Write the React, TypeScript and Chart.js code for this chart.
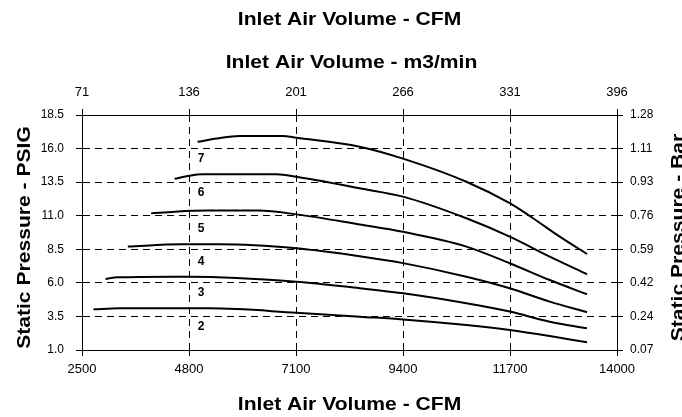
import React, { useEffect, useRef } from "react";
import { Chart, registerables } from "chart.js";

Chart.register(...registerables);

// ---- data ----
const cfmTicks = [2500, 4800, 7100, 9400, 11700, 14000];
const m3Labels = ["71", "136", "201", "266", "331", "396"];
const psiTicks = [1.0, 3.5, 6.0, 8.5, 11.0, 13.5, 16.0, 18.5];
const barLabels = ["0.07", "0.24", "0.42", "0.59", "0.76", "0.93", "1.11", "1.28"];

const curveNames = ["2", "3", "4", "5", "6", "7"];

const curve2Cfm = [2747, 3306, 5242, 7106, 8468, 9400, 10762, 11694, 12554, 13356];
const curve2Psi = [4.03, 4.1, 4.1, 3.78, 3.48, 3.28, 2.86, 2.49, 2.04, 1.57];

const curve3Cfm = [3005, 3270, 4446, 4812, 7106, 8468, 9400, 10762, 11694, 12554, 13356];
const curve3Psi = [6.29, 6.41, 6.46, 6.46, 6.09, 5.6, 5.22, 4.48, 3.86, 3.11, 2.62];

const curve4Cfm = [3485, 4633, 5457, 7106, 8468, 9400, 10762, 11694, 12554, 13356];
const curve4Psi = [8.7, 8.87, 8.87, 8.57, 7.98, 7.47, 6.46, 5.6, 4.6, 3.81];

const curve5Cfm = [3988, 4500, 5200, 6300, 7106, 8468, 9400, 10762, 11694, 12554, 13356];
const curve5Psi = [11.18, 11.3, 11.38, 11.38, 11.1, 10.35, 9.8, 8.7, 7.46, 6.21, 5.15];

const curve6Cfm = [4489, 4812, 5091, 6683, 7106, 8468, 9400, 10762, 11694, 12554, 13356];
const curve6Psi = [13.75, 13.98, 14.08, 14.08, 13.9, 13.04, 12.42, 10.81, 9.44, 7.95, 6.64];

const curve7Cfm = [4984, 5400, 5887, 6812, 7106, 8468, 9400, 10762, 11694, 12195, 12769, 13356];
const curve7Psi = [16.5, 16.75, 16.94, 16.94, 16.81, 16.14, 15.25, 13.53, 11.93, 10.81, 9.44, 8.15];

const curveCfm = [curve2Cfm, curve3Cfm, curve4Cfm, curve5Cfm, curve6Cfm, curve7Cfm];
const curvePsi = [curve2Psi, curve3Psi, curve4Psi, curve5Psi, curve6Psi, curve7Psi];

const labelCfm = 5060;
const labelPsi = [2.74, 5.27, 7.57, 10.06, 12.72, 15.28];

const topTitle = "Inlet Air Volume - CFM";
const topAxisTitle = "Inlet Air Volume - m3/min";
const bottomAxisTitle = "Inlet Air Volume - CFM";
const leftAxisTitle = "Static Pressure - PSIG";
const rightAxisTitle = "Static Pressure - Bar";

const FONT = "'Liberation Sans', Arial, sans-serif";

const drawStretched = (ctx: CanvasRenderingContext2D, text: string, x: number, y: number, rot: number) => {
  ctx.save();
  ctx.translate(x, y);
  ctx.rotate(rot);
  ctx.scale(1.11, 1);
  ctx.font = `bold 19px ${FONT}`;
  ctx.fillStyle = "#000";
  ctx.textAlign = "center";
  ctx.textBaseline = "alphabetic";
  ctx.fillText(text, 0, 0);
  ctx.restore();
};

const textPlugin = {
  id: "customTexts",
  afterDraw(chart: any) {
    const ctx = chart.ctx as CanvasRenderingContext2D;
    const area = chart.chartArea;
    const cx = (area.left + area.right) / 2;
    const cy = (area.top + area.bottom) / 2;
    drawStretched(ctx, topTitle, cx, 25, 0);
    drawStretched(ctx, topAxisTitle, cx + 2, 68, 0);
    drawStretched(ctx, bottomAxisTitle, cx, 410, 0);
    drawStretched(ctx, leftAxisTitle, 30, cy + 5, -Math.PI / 2);
    drawStretched(ctx, rightAxisTitle, area.right + 67, cy + 5, -Math.PI / 2);

    const xs = chart.scales.x;
    const ys = chart.scales.y;
    ctx.save();
    ctx.font = `bold 12px ${FONT}`;
    ctx.fillStyle = "#000";
    ctx.textAlign = "center";
    ctx.textBaseline = "middle";
    curveNames.forEach((name, i) => {
      ctx.fillText(name, xs.getPixelForValue(labelCfm), ys.getPixelForValue(labelPsi[i]));
    });
    ctx.restore();
  },
};

const xTickFont = { family: FONT, size: 13 };
const yTickFont = { family: FONT, size: 12 };

const gridCommon = {
  color: "#000",
  lineWidth: 1,
  tickLength: 6,
  tickColor: "#000",
  tickWidth: 1,
};

export default function App() {
  const ref = useRef<HTMLCanvasElement>(null);

  useEffect(() => {
    if (!ref.current) return;
    const datasets = curveNames.map((name, i) => ({
      label: name,
      data: curveCfm[i].map((c, j) => ({ x: c, y: curvePsi[i][j] })),
      borderColor: "#000",
      borderWidth: 2,
      pointRadius: 0,
      fill: false,
      cubicInterpolationMode: "monotone" as const,
      xAxisID: "x",
      yAxisID: "y",
    }));

    const chart = new Chart(ref.current, {
      type: "line",
      data: { datasets },
      plugins: [textPlugin],
      options: {
        animation: false,
        responsive: false,
        maintainAspectRatio: false,
        layout: { padding: 0 },
        plugins: {
          legend: { display: false },
          tooltip: { enabled: false },
          title: { display: false },
        },
        scales: {
          x: {
            type: "linear",
            position: "bottom",
            min: 2500,
            max: 14000,
            afterBuildTicks: (s: any) => {
              s.ticks = cfmTicks.map((value) => ({ value }));
            },
            afterFit: (s: any) => {
              s.height = 67;
            },
            ticks: { color: "#000", font: xTickFont, padding: 6, maxRotation: 0, callback: (v: any) => String(v) },
            grid: { ...gridCommon },
            border: { display: true, color: "#000", width: 1, dash: [7, 5] },
          },
          x2: {
            type: "linear",
            position: "top",
            min: 2500,
            max: 14000,
            afterBuildTicks: (s: any) => {
              s.ticks = cfmTicks.map((value) => ({ value }));
            },
            afterFit: (s: any) => {
              s.height = 115;
            },
            ticks: { color: "#000", font: xTickFont, padding: 9, maxRotation: 0, callback: (_v: any, i: number) => m3Labels[i] },
            grid: { ...gridCommon, drawOnChartArea: false },
            border: { display: true, color: "#000", width: 1 },
          },
          y: {
            type: "linear",
            position: "left",
            min: 1,
            max: 18.5,
            afterBuildTicks: (s: any) => {
              s.ticks = psiTicks.map((value) => ({ value }));
            },
            afterFit: (s: any) => {
              s.width = 82;
            },
            ticks: { color: "#000", font: yTickFont, padding: 12, callback: (v: any) => Number(v).toFixed(1) },
            grid: { ...gridCommon },
            border: { display: true, color: "#000", width: 1, dash: [7, 5] },
          },
          y2: {
            type: "linear",
            position: "right",
            min: 1,
            max: 18.5,
            afterBuildTicks: (s: any) => {
              s.ticks = psiTicks.map((value) => ({ value }));
            },
            afterFit: (s: any) => {
              s.width = 65;
            },
            ticks: { color: "#000", font: yTickFont, padding: 7, callback: (_v: any, i: number) => barLabels[i] },
            grid: { ...gridCommon, drawOnChartArea: false },
            border: { display: true, color: "#000", width: 1 },
          },
        },
      },
    });
    return () => chart.destroy();
  }, []);

  return (
    <div style={{ position: "absolute", left: 0, top: 0, width: 682, height: 417, background: "#fff" }}>
      <canvas ref={ref} width={682} height={417} style={{ display: "block" }} />
    </div>
  );
}
